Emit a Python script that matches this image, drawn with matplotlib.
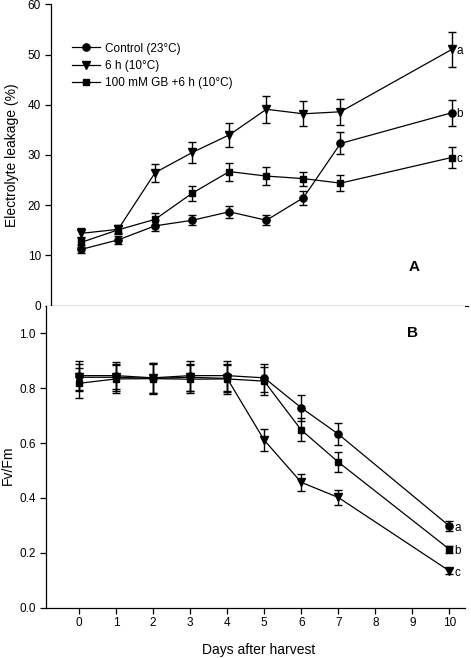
import matplotlib
matplotlib.use("Agg")
import matplotlib.pyplot as plt
from matplotlib.lines import Line2D
import numpy as np

plt.rcParams['font.family'] = ['Liberation Sans', 'DejaVu Sans']

days = [0, 1, 2, 3, 4, 5, 6, 7, 10]
xticks = list(range(0, 11))
labels = ['Control (23°C)', '6 h (10°C)', '100 mM GB +6 h (10°C)']
end_letters_A = ['b', 'a', 'c']
end_letters_B = ['a', 'c', 'b']

# Panel A: electrolyte leakage (%)
el_control = [11.2, 13.1, 15.9, 17.0, 18.7, 17.0, 21.5, 32.3, 38.4]
el_control_err = [0.8, 0.8, 1.1, 1.0, 1.2, 1.0, 1.4, 2.2, 2.6]
el_cold = [14.4, 15.2, 26.5, 30.5, 34.0, 39.1, 38.2, 38.6, 51.0]
el_cold_err = [1.0, 0.8, 1.8, 2.0, 2.4, 2.7, 2.5, 2.6, 3.5]
el_gb = [12.6, 15.1, 17.2, 22.4, 26.7, 25.8, 25.3, 24.4, 29.5]
el_gb_err = [1.0, 0.8, 1.2, 1.5, 1.8, 1.8, 1.4, 1.6, 2.0]

# Panel B: Fv/Fm
fv_control = [0.846, 0.846, 0.838, 0.846, 0.846, 0.838, 0.729, 0.633, 0.298]
fv_control_err = [0.054, 0.05, 0.055, 0.055, 0.055, 0.05, 0.047, 0.04, 0.018]
fv_cold = [0.84, 0.84, 0.836, 0.84, 0.836, 0.611, 0.457, 0.402, 0.134]
fv_cold_err = [0.05, 0.05, 0.055, 0.05, 0.05, 0.04, 0.03, 0.028, 0.01]
fv_gb = [0.818, 0.834, 0.835, 0.833, 0.834, 0.826, 0.648, 0.531, 0.213]
fv_gb_err = [0.055, 0.05, 0.055, 0.05, 0.055, 0.05, 0.042, 0.036, 0.012]

markers = ['o', 'v', 's']
msizes = [5.2, 6.2, 5.0]

fig = plt.figure(figsize=(4.71, 6.58), dpi=100)
axA = fig.add_axes([0.1076, 0.5354, 0.886, 0.4581])
axB = fig.add_axes([0.097, 0.0765, 0.890, 0.4585])

def style(ax):
    for s in ['top', 'right']:
        ax.spines[s].set_visible(False)
    for s in ['left', 'bottom']:
        ax.spines[s].set_linewidth(0.9)
    ax.tick_params(direction='out', length=4, width=0.9, labelsize=8.5, pad=3)

seriesA = [(el_control, el_control_err), (el_cold, el_cold_err), (el_gb, el_gb_err)]
for i, (y, e) in enumerate(seriesA):
    axA.errorbar(days, y, yerr=e, color='black', marker=markers[i], markersize=msizes[i],
                 linewidth=0.9, elinewidth=1.0, capsize=3, capthick=1.0)
    axA.text(days[-1] + 0.13, y[-1] - 0.3, end_letters_A[i], fontsize=8.5, ha='left', va='center')
axA.set_xlim(-0.82, 10.44)
axA.set_ylim(0, 60)
axA.set_yticks(range(0, 61, 10))
axA.set_xticks(xticks)
axA.set_xticklabels([])
style(axA)
axA.tick_params(axis='x', length=5)
axA.text(9.0, 7.8, 'A', fontsize=11, fontweight='bold', ha='center', va='center')
handles = [Line2D([], [], color='black', marker=markers[i], markersize=msizes[i], linewidth=0.9)
           for i in range(3)]
axA.legend(handles, labels, loc='upper left', bbox_to_anchor=(0.05, 0.873), frameon=False,
           fontsize=8.5, handlelength=2.4, handletextpad=0.4, borderpad=0, borderaxespad=0,
           labelspacing=0.45)

seriesB = [(fv_control, fv_control_err), (fv_cold, fv_cold_err), (fv_gb, fv_gb_err)]
for i, (y, e) in enumerate(seriesB):
    axB.errorbar(days, y, yerr=e, color='black', marker=markers[i], markersize=msizes[i],
                 linewidth=0.9, elinewidth=1.0, capsize=3, capthick=1.0)
    axB.text(days[-1] + 0.13, y[-1] - 0.008, end_letters_B[i], fontsize=8.5, ha='left', va='center')
axB.set_xlim(-0.9, 10.42)
axB.set_ylim(0, 1.1)
axB.set_yticks(np.arange(0, 1.01, 0.2))
axB.set_yticklabels([f'{v:.1f}' for v in np.arange(0, 1.01, 0.2)])
axB.set_xticks(xticks)
style(axB)
axB.text(9.0, 1.0, 'B', fontsize=11, fontweight='bold', ha='center', va='center')

fig.text(12 / 471, 1 - 155 / 658, 'Electrolyte leakage (%)', rotation=90, fontsize=10,
         ha='center', va='center')
fig.text(8 / 471, 1 - 465 / 658, 'Fv/Fm', rotation=90, fontsize=10, ha='center', va='center')
fig.text(259 / 471, 1 - 650 / 658, 'Days after harvest', fontsize=10, ha='center', va='center')

fig.savefig('out.png', dpi=100)
